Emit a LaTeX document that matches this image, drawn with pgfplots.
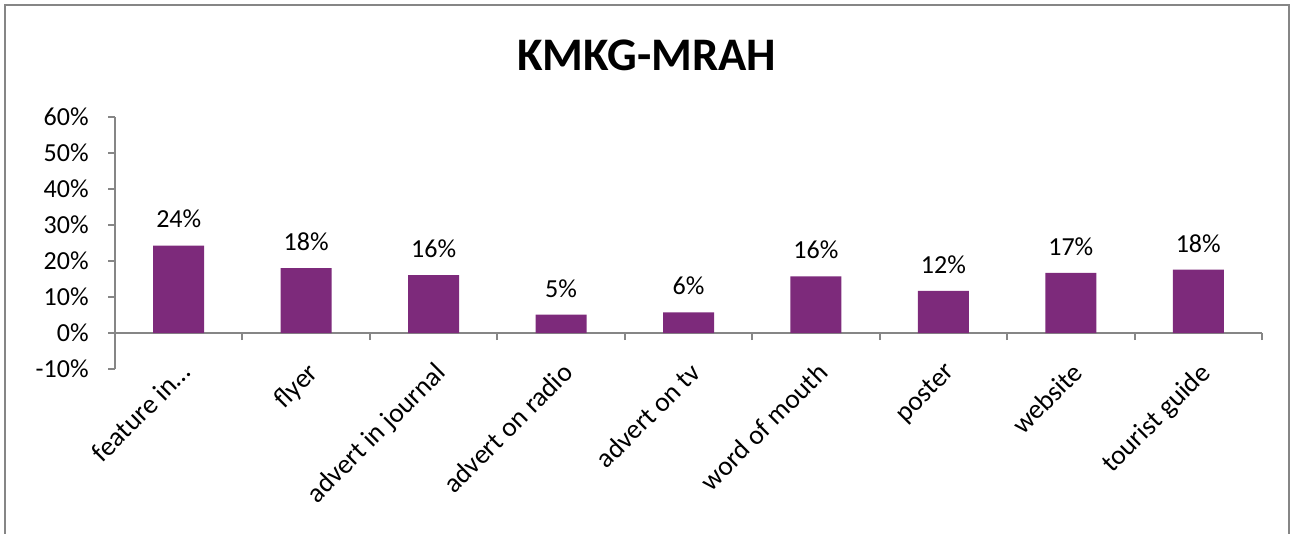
\documentclass[border=0pt]{standalone}
\usepackage{pgfplots}
\pgfplotsset{compat=1.18}
\usepackage{fontspec}
\setmainfont{Carlito}
\definecolor{barc}{RGB}{125,42,123}
\definecolor{axc}{RGB}{134,134,134}
\begin{document}
\begin{tikzpicture}[x=1pt,y=1pt]
\useasboundingbox (0,0) rectangle (969,-399.75);
\draw[axc, line width=1.8pt] (3.75,-402) -- (3.75,-3.75) -- (966.75,-3.75) -- (966.75,-402);
\node[font=\fontsize{35}{40}\selectfont\bfseries] at (485,-41.5) {KMKG-MRAH};
\begin{axis}[
  at={(86.25pt,-276.75pt)}, anchor=south west,
  scale only axis, width=860.25pt, height=189pt,
  xmin=-0.5, xmax=8.5, ymin=-10, ymax=60,
  axis x line*=middle, axis y line*=left,
  hide obscured x ticks=false, hide obscured y ticks=false,
  axis line style={axc, line width=1.5pt},
  tick style={axc, line width=1.5pt},
  tick align=outside, major tick length=5.25pt,
  ytick={-10,0,10,20,30,40,50,60},
  yticklabel={\pgfmathprintnumber{\tick}\%},
  yticklabel style={xshift=-11pt},
  /pgf/number format/assume math mode=true,
  ticklabel style={font=\fontsize{19.5}{22}\selectfont, black},
  xtick={-0.5,0.5,1.5,2.5,3.5,4.5,5.5,6.5,7.5,8.5},
  xticklabels={},
  extra x ticks={0,1,2,3,4,5,6,7,8},
  extra x tick labels={feature in…,flyer,advert in journal,advert on radio,advert on tv,word of mouth,poster,website,tourist guide},
  extra x tick style={major tick length=0pt, xticklabel style={font=\fontsize{20.5}{22}\selectfont, yshift=-16pt, xshift=0pt, rotate=45, anchor=north east}},
  ybar, bar width=38.25pt,
  nodes near coords={\pgfmathprintnumber[fixed,precision=0]{\pgfplotspointmeta}\%},
  nodes near coords style={font=\fontsize{19.5}{22}\selectfont, black, yshift=9.5pt},
  clip=false,
]
\addplot[fill=barc, draw=none] coordinates {(0,24.3) (1,18.0) (2,16.1) (3,5.1) (4,5.7) (5,15.7) (6,11.7) (7,16.7) (8,17.6)};
\end{axis}
\end{tikzpicture}
\end{document}
